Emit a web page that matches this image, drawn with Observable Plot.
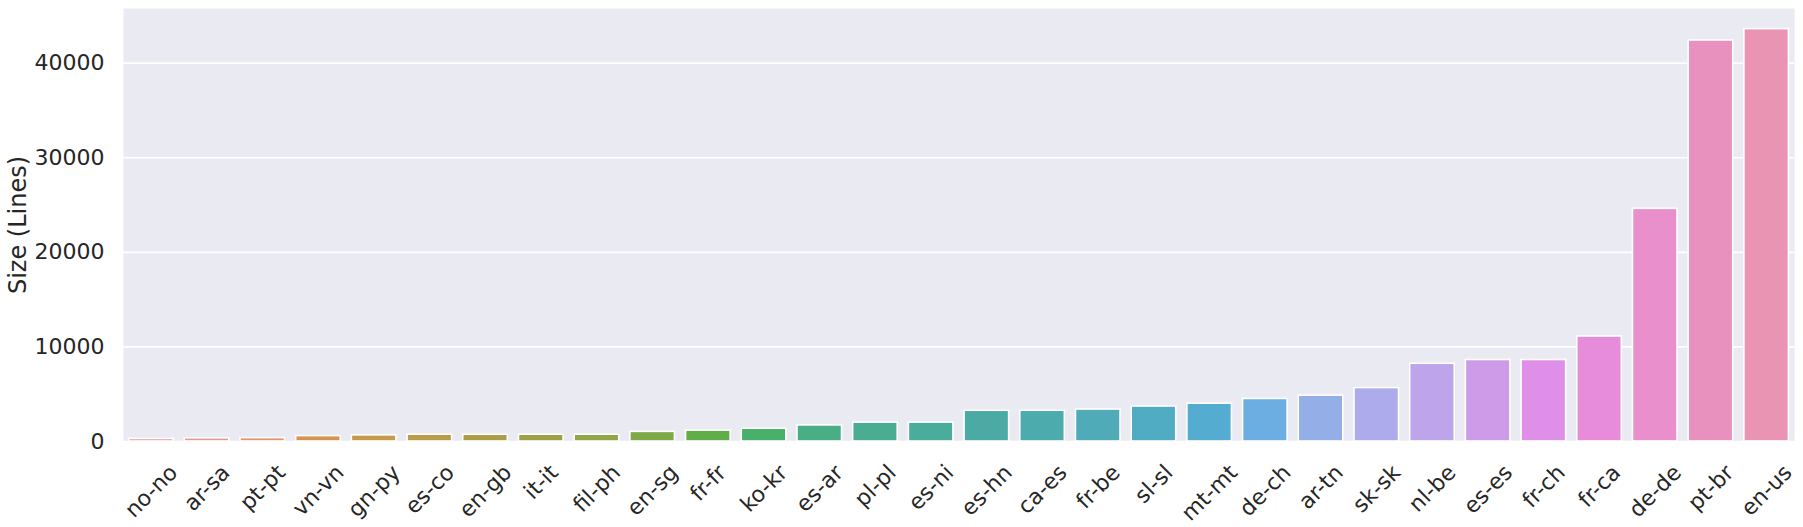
<!DOCTYPE html>
<html>
<head>
<meta charset="utf-8">
<script src="https://cdn.jsdelivr.net/npm/d3@7"></script>
<script src="https://cdn.jsdelivr.net/npm/@observablehq/plot@0.6"></script>
<style>
  html, body { margin: 0; padding: 0; background: white; }
</style>
</head>
<body>
<div id="chart"></div>
<script>
// ---- data ----
const langs = ["no-no","ar-sa","pt-pt","vn-vn","gn-py","es-co","en-gb","it-it","fil-ph","en-sg",
  "fr-fr","ko-kr","es-ar","pl-pl","es-ni","es-hn","ca-es","fr-be","sl-sl","mt-mt",
  "de-ch","ar-tn","sk-sk","nl-be","es-es","fr-ch","fr-ca","de-de","pt-br","en-us"];
const sizes = [270, 340, 360, 570, 650, 720, 720, 720, 720, 1020,
  1150, 1350, 1700, 2000, 2000, 3250, 3250, 3380, 3700, 4000,
  4500, 4850, 5650, 8220, 8620, 8620, 11100, 24600, 42400, 43600];
const yTicks = [0, 10000, 20000, 30000, 40000];
const yLabel = "Size (Lines)";

const data = langs.map((lang, i) => ({lang, size: sizes[i]}));

// ---- seaborn-like husl palette (l=.7, s=.9, h=.01), desaturated by .75 ----
const M = [[3.2406, -1.5372, -0.4986], [-0.9689, 1.8758, 0.0415], [0.0557, -0.2040, 1.0570]];
const refU = 0.19784, refV = 0.46834, labE = 0.008856, labK = 903.3;
function maxChroma(L, H) {
  const hrad = H / 360 * 2 * Math.PI, sinH = Math.sin(hrad), cosH = Math.cos(hrad);
  const sub1 = Math.pow(L + 16, 3) / 1560896;
  const sub2 = sub1 > labE ? sub1 : L / labK;
  let result = Infinity;
  for (const [m1, m2, m3] of M) {
    const top = (0.99915 * m1 + 1.05122 * m2 + 1.14460 * m3) * sub2;
    const rb = 0.86330 * m3 - 0.17266 * m2;
    const lb = 0.12949 * m3 - 0.38848 * m1;
    const bottom = (rb * sinH + lb * cosH) * sub2;
    for (const t of [0, 1]) {
      const C = L * (top - 1.05122 * t) / (bottom + 0.17266 * sinH * t);
      if (C > 0 && C < result) result = C;
    }
  }
  return result;
}
function fromLinear(c) { return c <= 0.0031308 ? 12.92 * c : 1.055 * Math.pow(c, 1 / 2.4) - 0.055; }
function huslToRgb(H, S, L) {
  const C = maxChroma(L, H) / 100 * S;
  const hrad = H / 360 * 2 * Math.PI;
  const U = Math.cos(hrad) * C, V = Math.sin(hrad) * C;
  const t = (L + 16) / 116;
  const varY = t * t * t > labE ? t * t * t : (116 * t - 16) / labK;
  const varU = U / (13 * L) + refU, varV = V / (13 * L) + refV;
  const Y = varY;
  const X = -(9 * Y * varU) / ((varU - 4) * varV - varU * varV);
  const Z = (9 * Y - 15 * varV * Y - varV * X) / (3 * varV);
  return M.map(r => Math.min(1, Math.max(0, fromLinear(r[0] * X + r[1] * Y + r[2] * Z))));
}
const n = langs.length;
const palette = d3.range(n).map(i => {
  const h = ((i / n + 0.01) % 1) * 359;
  const [r, g, b] = huslToRgb(h, 0.9 * 99, 0.7 * 99);
  const hsl = d3.hsl(d3.rgb(r * 255, g * 255, b * 255));
  hsl.s *= 0.75;
  return hsl.formatHex();
});

// ---- label offsets (matplotlib-like centered rotated labels) ----
const tickFont = 22;
const ctx = document.createElement("canvas").getContext("2d");
ctx.font = `${tickFont}px "DejaVu Sans"`;
const xLabelMarks = data.map(d => {
  const L = ctx.measureText(d.lang).width;
  return Plot.text([d], {
    x: "lang", text: "lang", frameAnchor: "bottom",
    dy: 27.5 + L * 0.3536, rotate: -45,
    textAnchor: "middle", lineAnchor: "middle",
    fontSize: tickFont, fill: "#262626"
  });
});

const chart = Plot.plot({
  width: 1803,
  height: 527,
  marginLeft: 123,
  marginRight: 9,
  marginTop: 8,
  marginBottom: 86,
  style: {background: "white", fontFamily: "DejaVu Sans", color: "#262626", fontSize: "22px"},
  x: {domain: langs, paddingInner: 0.2, paddingOuter: 0.1, round: false, axis: null},
  y: {domain: [0, 45780], axis: null},
  color: {domain: langs, range: palette},
  marks: [
    Plot.frame({fill: "#EAEAF2", stroke: null}),
    Plot.gridY(yTicks, {stroke: "white", strokeOpacity: 1, strokeWidth: 1.6}),
    Plot.barY(data, {x: "lang", y: "size", fill: "lang", stroke: "white", strokeWidth: 1.6}),
    Plot.axisY(yTicks, {tickSize: 0, tickPadding: 19, label: null, fontSize: tickFont,
      tickFormat: d3.format("d"), fill: "#262626"}),
    ...xLabelMarks,
    Plot.text([yLabel], {frameAnchor: "left", text: d => d, rotate: -90, dx: -105,
      textAnchor: "middle", lineAnchor: "middle", fontSize: 24, fill: "#262626"})
  ]
});
document.getElementById("chart").appendChild(chart);
</script>
</body>
</html>
